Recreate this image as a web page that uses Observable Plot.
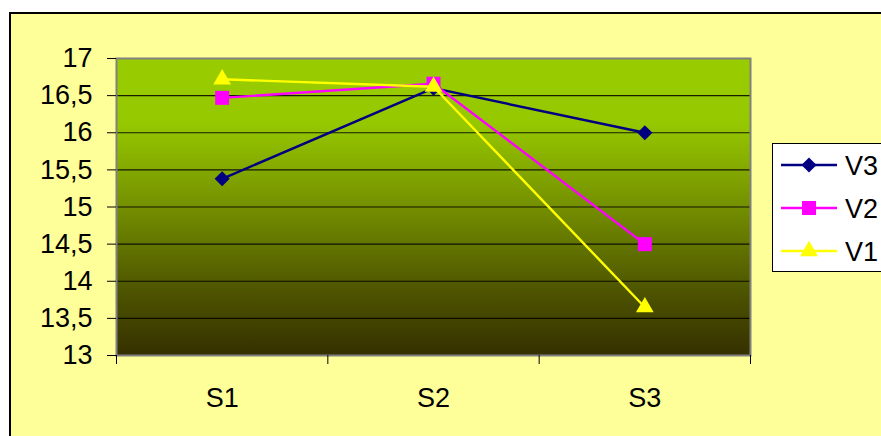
<!DOCTYPE html>
<html>
<head>
<meta charset="utf-8">
<script src="https://cdn.jsdelivr.net/npm/d3@7"></script>
<script src="https://cdn.jsdelivr.net/npm/@observablehq/plot@0.6"></script>
<style>
  html, body { margin: 0; padding: 0; background: #fff; overflow: hidden; width: 881px; height: 436px; }
  body { position: relative; font-family: "Liberation Sans", Arial, sans-serif; }
  #chart-area { position: absolute; left: 9px; top: 12px; width: 900px; height: 440px; border: 2px solid #000; background: #FFFF99; }
  #plot { position: absolute; left: 0; top: 0; }
  #legend { position: absolute; left: 772px; top: 143px; }
</style>
</head>
<body>
<div id="chart-area"></div>
<div id="plot"></div>
<div id="legend"></div>
<script>
// Categories along the x axis
const categories = ["S1", "S2", "S3"];
// Series, in drawing / legend order
const seriesNames = ["V3", "V2", "V1"];
const v3 = [15.38, 16.6, 16.0];
const v2 = [16.47, 16.66, 14.5];
const v1 = [16.72, 16.62, 13.65];
const seriesValues = [v3, v2, v1];
const seriesColors = ["#000080", "#FF00FF", "#FFFF00"];
const seriesSymbols = ["diamond2", "square", "triangle"];
const seriesRadii = [6.8, 7.9, 6.6];
// Value axis ticks
const yTicks = [13, 13.5, 14, 14.5, 15, 15.5, 16, 16.5, 17];

const rows = [];
seriesNames.forEach((name, s) => {
  seriesValues[s].forEach((v, i) => rows.push({series: name, pos: i + 0.5, value: v}));
});

const decimalComma = v => String(v).replace(".", ",");

const seriesMarks = seriesNames.flatMap((name, s) => [
  Plot.line(rows, {filter: d => d.series === name, x: "pos", y: "value", stroke: seriesColors[s], strokeWidth: 2.4}),
  Plot.dot(rows, {filter: d => d.series === name, x: "pos", y: "value", symbol: seriesSymbols[s], r: seriesRadii[s], fill: seriesColors[s], stroke: "none"})
]);

const chart = Plot.plot({
  width: 881,
  height: 436,
  marginLeft: 116,
  marginRight: 131,
  marginTop: 58,
  marginBottom: 81,
  style: {background: "transparent", color: "#000", fontFamily: "'Liberation Sans', Arial, sans-serif", fontSize: "27px", overflow: "visible"},
  x: {type: "linear", domain: [0, categories.length]},
  y: {domain: [13, 17]},
  marks: [
    Plot.frame({fill: "url(#plotBg)"}),
    Plot.ruleY(yTicks.filter(t => t > 13 && t < 17), {stroke: "#000", strokeOpacity: 0.85, strokeWidth: 1.2}),
    ...seriesMarks,
    Plot.frame({stroke: "#808080", strokeWidth: 2}),
    Plot.axisY({ticks: yTicks, tickSize: 9, tickPadding: 15, tickFormat: decimalComma, label: null}),
    Plot.axisX({ticks: d3.range(categories.length + 1), tickSize: 9, tickFormat: () => "", label: null}),
    Plot.axisX({ticks: categories.map((c, i) => i + 0.5), tickSize: 0, tickPadding: 32, tickFormat: v => categories[Math.floor(v)], label: null})
  ]
});

// Vertical gradient for the plotting area
const defs = d3.select(chart).insert("defs", ":first-child");
const grad = defs.append("linearGradient").attr("id", "plotBg").attr("x1", 0).attr("y1", 0).attr("x2", 0).attr("y2", 1);
[[0, "#99CC00"], [0.22, "#96C800"], [0.5, "#748F00"], [0.78, "#4E5500"], [1, "#353000"]]
  .forEach(([o, c]) => grad.append("stop").attr("offset", o).attr("stop-color", c));

document.getElementById("plot").appendChild(chart);

// Legend box
const lg = d3.select("#legend").append("svg").attr("width", 130).attr("height", 130);
lg.append("rect").attr("x", 0.5).attr("y", 0.5).attr("width", 128).attr("height", 128)
  .attr("fill", "#fff").attr("stroke", "#000");
const symbolTypes = {diamond2: d3.symbolDiamond2, square: d3.symbolSquare, triangle: d3.symbolTriangle};
seriesNames.forEach((name, s) => {
  const cy = 22 + s * 43;
  lg.append("line").attr("x1", 9).attr("x2", 65).attr("y1", cy).attr("y2", cy)
    .attr("stroke", seriesColors[s]).attr("stroke-width", 2.4);
  lg.append("path")
    .attr("d", d3.symbol(symbolTypes[seriesSymbols[s]], Math.PI * seriesRadii[s] ** 2)())
    .attr("transform", `translate(37,${cy})`).attr("fill", seriesColors[s]);
  lg.append("text").attr("x", 73).attr("y", cy).attr("dy", "0.36em")
    .attr("font-family", "'Liberation Sans', Arial, sans-serif").attr("font-size", 27)
    .text(name);
});
</script>
</body>
</html>
